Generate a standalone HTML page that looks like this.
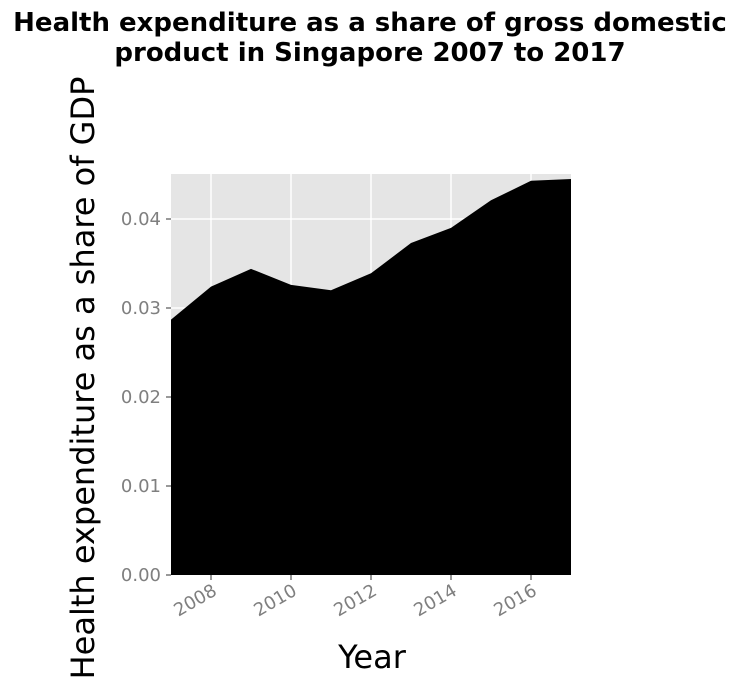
<!DOCTYPE html>
<html><head><meta charset="utf-8"><style>
body{margin:0;background:#fff;width:740px;height:686px;overflow:hidden}
svg{display:block}
text{font-family:"DejaVu Sans",sans-serif}
</style></head><body>
<svg id="chart" width="740" height="686">
<text x="370" y="31" text-anchor="middle" font-size="26" font-weight="bold">Health expenditure as a share of gross domestic</text>
<text x="370" y="61" text-anchor="middle" font-size="26" font-weight="bold">product in Singapore 2007 to 2017</text>
<rect x="171" y="174" width="400" height="401" fill="#e5e5e5"/>
<g id="grid"></g>
<path id="area" fill="#000"/>
<g id="axes"></g>
<text x="372" y="668" text-anchor="middle" font-size="32">Year</text>
<text transform="translate(94,378) rotate(-90)" text-anchor="middle" font-size="32">Health expenditure as a share of GDP</text>
</svg>
<script>
const years=[2007,2008,2009,2010,2011,2012,2013,2014,2015,2016,2017];
const values=[0.0287,0.0324,0.0344,0.0326,0.0320,0.0339,0.0373,0.0390,0.0421,0.0443,0.0445];
const xTicks=[2008,2010,2012,2014,2016];
const yTicks=[0,0.01,0.02,0.03,0.04];
const yLabels=["0.00","0.01","0.02","0.03","0.04"];
const X=v=>171+(v-2007)*40;
const Y=v=>575-v*8900;
const ns="http://www.w3.org/2000/svg";
const grid=document.getElementById('grid'),axes=document.getElementById('axes');
function mk(p,tag,attrs){const e=document.createElementNS(ns,tag);for(const k in attrs)e.setAttribute(k,attrs[k]);p.appendChild(e);return e;}
xTicks.forEach(t=>{
 const l=mk(grid,'line',{x1:X(t),x2:X(t),y1:174,y2:575,stroke:'#fff','stroke-width':1.5});
 
 
 const tk=mk(axes,'line',{x1:X(t),x2:X(t),y1:575,y2:580,stroke:'#333'});
 
 
 const tx=mk(axes,'text',{x:X(t)+7,y:594,'text-anchor':'end','font-size':18,fill:'#7f7f7f',transform:`rotate(-30 ${X(t)+7} 594)`});
 tx.textContent=t;
 
 
});
yTicks.forEach((t,i)=>{
 const l=mk(grid,'line',{x1:171,x2:571,y1:Y(t),y2:Y(t),stroke:'#fff','stroke-width':1.5});
 
 
 const tk=mk(axes,'line',{x1:166,x2:171,y1:Y(t),y2:Y(t),stroke:'#333'});
 
 
 const tx=mk(axes,'text',{x:161,y:Y(t)+6,'text-anchor':'end','font-size':18,fill:'#7f7f7f'});
 tx.textContent=yLabels[i];
 
 
});
let d=`M${X(years[0])},${Y(0)}`;
years.forEach((y,i)=>{d+=` L${X(y)},${Y(values[i])}`;});
d+=` L${X(years[years.length-1])},${Y(0)} Z`;
document.getElementById('area').setAttribute('d',d);
</script>
</body></html>
